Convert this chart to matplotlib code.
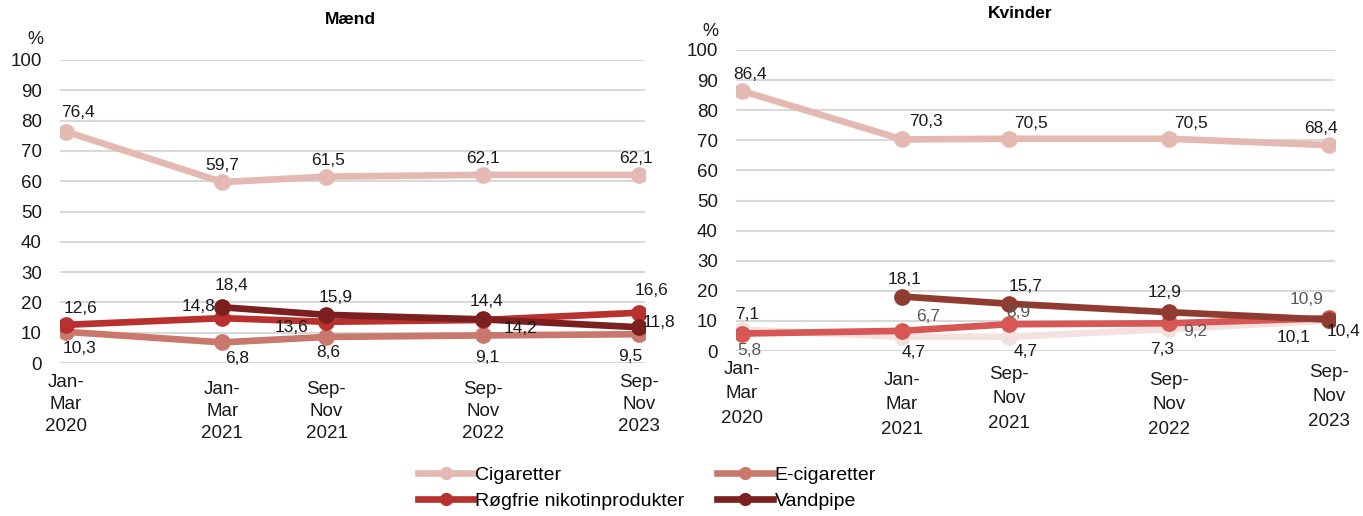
import matplotlib
matplotlib.use("Agg")
import matplotlib.pyplot as plt
from matplotlib.lines import Line2D

plt.rcParams['font.family'] = ['Liberation Sans', 'DejaVu Sans']

# ---------------- data ----------------
periods = ["Jan-\nMar\n2020", "Jan-\nMar\n2021", "Sep-\nNov\n2021", "Sep-\nNov\n2022", "Sep-\nNov\n2023"]
months = [0, 12, 20, 32, 44]          # time position of each period (months from Jan-Mar 2020)
series_names = ["Cigaretter", "E-cigaretter", "Røgfrie nikotinprodukter", "Vandpipe"]

maend_cig = [76.4, 59.7, 61.5, 62.1, 62.1]
maend_ecig = [10.3, 6.8, 8.6, 9.1, 9.5]
maend_roegfri = [12.6, 14.8, 13.6, 14.2, 16.6]
maend_vandpibe = [None, 18.4, 15.9, 14.4, 11.8]

kvinder_cig = [86.4, 70.3, 70.5, 70.5, 68.4]
kvinder_ecig = [7.1, 4.7, 4.7, 7.3, 10.1]
kvinder_roegfri = [5.8, 6.7, 8.9, 9.2, 10.9]
kvinder_vandpibe = [None, 18.1, 15.7, 12.9, 10.4]

# ---------------- style ----------------
PX = 0.72  # pixels -> points at dpi 100
col_m = ["#e4b9b1", "#c8786d", "#b8312f", "#7b1f1f"]
col_k = ["#e4b9b1", "#f3e1df", "#d65753", "#8f3b31"]
lab_col_m = ["#1a1a1a"] * 4
lab_col_k = ["#1a1a1a", "#1a1a1a", "#595959", "#1a1a1a"]

# label offsets (px) for each series/point
off_m = [
    [(12, -19), (0, -17), (2, -16), (0, -16), (-3, -16)],
    [(14, 17), (15, 16), (2, 16), (4, 22), (-9, 22)],
    [(15, -16), (-24, -12), (-35, 6), (38, 9), (12, -22)],
    [None, (9, -22), (9, -17), (4, -18), (20, -5)],
]
off_k = [
    [(8, -16), (24, -18), (22, -15), (22, -15), (-8, -17)],
    [(5, -15), (12, 16), (17, 15), (-7, 20), (-35, 17)],
    [(7, 17), (26, -14), (9, -12), (26, 8), (-22, -19)],
    [None, (2, -17), (17, -17), (-4, -20), (15, 12)],
]
xlab_off_m = [17, 24, 24, 24, 17]
xlab_off_k = [16, 27, 21, 27, 19]

FS_TICK = 13.5
FS_LAB = 12.5

fig = plt.figure(figsize=(13.63, 5.16), dpi=100)
W, H = 1363, 516
axL = fig.add_axes([60 / W, 1 - 363 / H, (645 - 60) / W, (363 - 60) / H])
axR = fig.add_axes([736 / W, 1 - 351 / H, (1335 - 736) / W, (351 - 50) / H])


def fmt(v):
    return f"{v:.1f}".replace(".", ",")


def draw(ax, data, cols, labcols, offs, xoffs, linesp, faint_below):
    for s, (vals, c) in enumerate(zip(data, cols)):
        xs = [m for m, v in zip(months, vals) if v is not None]
        ys = [v for v in vals if v is not None]
        z = 3 + (1 if s == 2 else 0) + (2 if s == 3 else 0)
        if s == 1 and faint_below:
            z = 2
        ax.plot(xs, ys, color=c, lw=4.8, marker='o', ms=11, zorder=z,
                solid_capstyle='round')
        for i, v in enumerate(vals):
            if v is None:
                continue
            dx, dy = offs[s][i]
            ax.annotate(fmt(v), (months[i], v), xytext=(dx * PX, -dy * PX),
                        textcoords='offset points', ha='center', va='center',
                        fontsize=FS_LAB, color=labcols[s], zorder=10)
    ax.set_ylim(0, 100)
    ax.set_xlim(-0.45, 44.45)
    ax.set_yticks(range(0, 101, 10))
    ax.tick_params(axis='y', length=0, labelsize=FS_TICK, pad=13, colors='#1a1a1a')
    ax.set_xticks([])
    ax.grid(axis='y', color='#d9d9d9', lw=1.5, zorder=0)
    for sp in ax.spines.values():
        sp.set_visible(False)
    for i, lab in enumerate(periods):
        ax.annotate(lab, (months[i], 0), xycoords=('data', 'axes fraction'),
                    xytext=(0, -(xoffs[i] - 6) * PX), textcoords='offset points',
                    ha='center', va='top', fontsize=FS_TICK, linespacing=linesp,
                    color='#1a1a1a', annotation_clip=False)


draw(axL, [maend_cig, maend_ecig, maend_roegfri, maend_vandpibe], col_m, lab_col_m,
     off_m, xlab_off_m, 1.38, False)
draw(axR, [kvinder_cig, kvinder_ecig, kvinder_roegfri, kvinder_vandpibe], col_k, lab_col_k,
     off_k, xlab_off_k, 1.56, True)

fig.text(350 / W, 1 - 20 / H, "Mænd", ha='center', va='center', fontsize=12.5,
         fontweight='bold', family=['Liberation Sans Narrow', 'Liberation Sans'])
fig.text(1020 / W, 1 - 13 / H, "Kvinder", ha='center', va='center', fontsize=12.5,
         fontweight='bold', family=['Liberation Sans Narrow', 'Liberation Sans'])
fig.text(35 / W, 1 - 40 / H, "%", ha='center', va='center', fontsize=13, color='#1a1a1a')
fig.text(710 / W, 1 - 31 / H, "%", ha='center', va='center', fontsize=13, color='#1a1a1a')

handles = [Line2D([], [], color=c, lw=4.8, marker='o', ms=8.5) for c in col_m]
order = [0, 2, 1, 3]
fig.legend([handles[i] for i in order], [series_names[i] for i in order],
           loc='center', bbox_to_anchor=(647 / W, 1 - 488 / H), ncol=2,
           frameon=False, fontsize=14, handlelength=2.85, handletextpad=0.1,
           columnspacing=1.7, labelspacing=0.45)

fig.savefig("out.png", dpi=100)
